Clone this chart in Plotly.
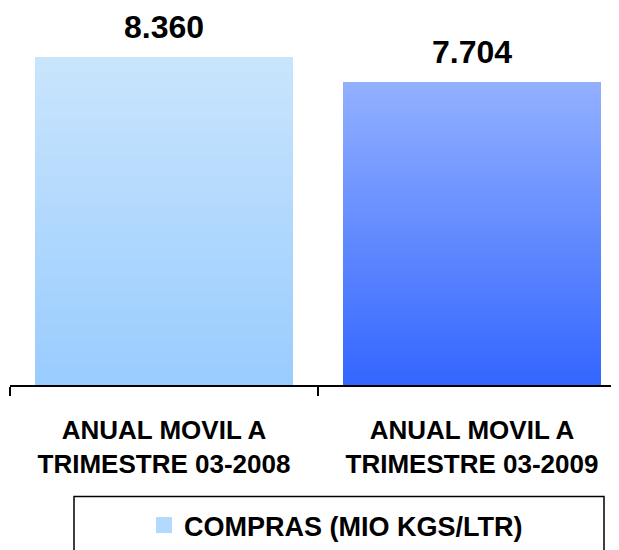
import plotly.graph_objects as go

categories = ["ANUAL MOVIL A<br>TRIMESTRE 03-2008", "ANUAL MOVIL A<br>TRIMESTRE 03-2009"]
values = [8.360, 7.704]
value_labels = ["8.360", "7.704"]
series_name = "COMPRAS (MIO KGS/LTR)"

# gradient endpoints per bar (bottom, top)
grad_bottom = [(0x99, 0xCC, 0xFF), (0x33, 0x66, 0xFF)]
grad_top = [(0xC9, 0xE5, 0xFC), (0x93, 0xB0, 0xFF)]
legend_color = "#B3D9FE"

N = 60


def mix(a, b, t):
    return "rgb(%d,%d,%d)" % tuple(round(a[i] + (b[i] - a[i]) * t) for i in range(3))


fig = go.Figure()
for k in range(N):
    t = (k + 0.5) / N
    cols = [mix(grad_bottom[i], grad_top[i], t) for i in range(len(values))]
    fig.add_trace(go.Bar(
        x=categories,
        y=[v / N for v in values],
        marker=dict(color=cols, line=dict(width=0)),
        width=0.84,
        name=series_name,
        showlegend=False,
        legendgroup="s",
        hoverinfo="skip",
    ))

# legend entry (no visible marks)
fig.add_trace(go.Scatter(
    x=[categories[0]], y=[None], mode="markers", name=series_name,
    marker=dict(symbol="square", size=17, color=legend_color, line=dict(width=0)),
    legendgroup="s", showlegend=True, hoverinfo="skip",
))

for c, v, lab in zip(categories, values, value_labels):
    fig.add_annotation(x=c, y=v, text=lab, showarrow=False, yanchor="bottom", yshift=10,
                       font=dict(family="Liberation Sans, Arial", size=32, color="black", weight="bold"))

# page is offset by 8px body margin; work in figure coordinates
W, H = 611, 542
ml, mt = 2, 0
axis_y = 382
mb = H - axis_y
plot_h = axis_y - mt
plot_w = W - ml

# legend box
fig.add_shape(type="rect", xref="paper", yref="paper",
              x0=(66 - ml) / plot_w, x1=(596 - ml) / plot_w,
              y0=(axis_y - 560) / plot_h, y1=(axis_y - 495) / plot_h,
              line=dict(color="black", width=1.5), fillcolor="rgba(0,0,0,0)")

fig.update_layout(
    width=W, height=H,
    margin=dict(l=ml, r=0, t=mt, b=mb, pad=0),
    barmode="stack",
    plot_bgcolor="white", paper_bgcolor="white",
    font=dict(family="Liberation Sans, Arial", color="black"),
    showlegend=True,
    legend=dict(x=(136 - ml) / plot_w, xanchor="left", y=(axis_y - 525) / plot_h, yanchor="middle",
                orientation="h", bgcolor="rgba(0,0,0,0)", itemsizing="trace",
                font=dict(size=27, weight="bold", color="black")),
    xaxis=dict(type="category", range=[-0.5, -0.5 + plot_w / 308], tickson="boundaries",
               ticks="outside", ticklen=9, tickwidth=1.5, tickcolor="black",
               showline=True, linecolor="black", linewidth=1.5,
               ticklabelstandoff=21,
               tickfont=dict(size=26, weight="bold", color="black"),
               showgrid=False, zeroline=False),
    yaxis=dict(range=[0, plot_h / 39.8], visible=False, showgrid=False, zeroline=False, fixedrange=True),
)

fig.write_html("out.html", config={"displayModeBar": False})
